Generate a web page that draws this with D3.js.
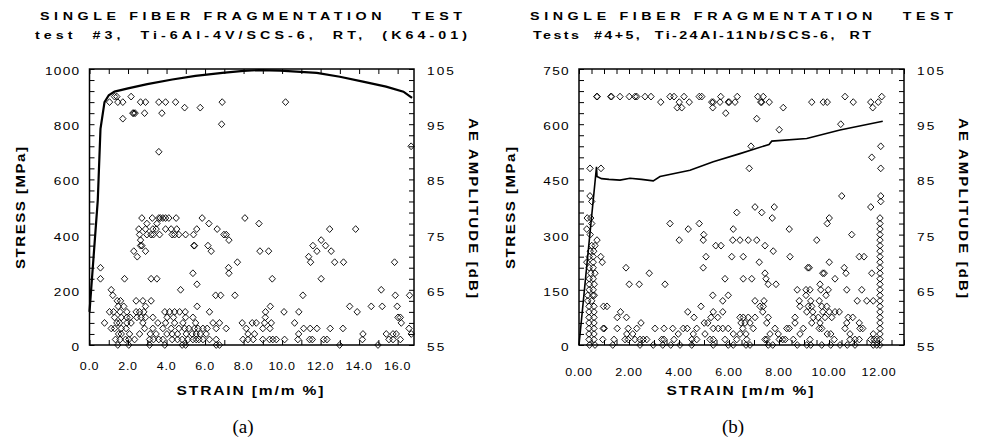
<!DOCTYPE html>
<html>
<head>
<meta charset="utf-8">
<script src="https://cdn.jsdelivr.net/npm/d3@7"></script>
<style>
  body { margin: 0; background: #fff; }
  svg text { font-family: "Liberation Sans", Arial, Helvetica, sans-serif; fill: #000; }
</style>
</head>
<body>
<svg id="fig" width="982" height="441"></svg>
<script>
// ---- panel (a): Ti-6Al-4V/SCS-6 ----
const stressA = [[0,120],[0.43,525],[0.57,783],[0.78,880],[1.0,905],[1.3,918],[2.0,930],[3.0,945],[4.3,962],[5.5,975],[6.9,986],[8.0,993],[8.8,996],[9.9,994],[11.8,986],[13.0,972],[14.2,954],[15.4,936],[16.3,918],[16.75,895]];

// AE hits: [amplitude dB, [strains]]
const aeA = [
  [100, [1.3, 1.42, 2.16]],
  [99, [1.04, 1.47, 1.73, 2.65, 2.91, 3.6, 3.95, 4.47, 6.89, 10.18]],
  [98, [4.94, 5.75]],
  [97, [2.25, 2.3, 2.37, 2.86, 3.76]],
  [96, [1.73]],
  [95, [6.86]],
  [91, [16.7]],
  [90, [3.6]],
  [78, [2.72, 3.26, 3.6, 3.68, 3.81, 3.95, 4.12, 4.5, 5.85, 8.07]],
  [77, [2.98, 3.5, 6.2, 8.8]],
  [76, [2.56, 2.91, 3.29, 3.46, 3.95, 4.24, 4.53, 5.57, 6.63, 12.47, 13.82]],
  [75, [2.6, 2.98, 3.2, 3.32, 3.64, 4.29, 4.42, 4.64, 4.99, 5.4, 6.98, 7.1]],
  [74, [2.65, 7.24, 12.03]],
  [73, [2.65, 2.72, 5.42, 5.45, 6.15, 11.6, 12.26]],
  [72, [2.3, 2.91, 6.32, 8.85, 9.3, 11.81, 12.55]],
  [71, [2.48, 11.38]],
  [70, [7.68, 11.48, 12.73, 13.19, 15.84]],
  [69, [0.57, 7.22]],
  [68, [5.37, 7.24]],
  [67, [0.57, 1.82, 3.2, 3.5, 9.49, 12.03]],
  [66, [5.58]],
  [65, [1.13, 4.73, 15.15]],
  [64, [1.21, 6.55, 6.81, 7.55, 11.08, 15.88, 16.62]],
  [63, [1.44, 1.61, 2.42, 2.77, 3.2]],
  [62, [1.49, 1.78, 2.91, 5.59, 9.39, 13.51, 14.63, 15.2, 15.98]],
  [61, [1.04, 1.25, 1.59, 1.94, 2.42, 2.6, 2.82, 3.91, 4.16, 4.42, 4.68, 4.97, 6.23, 9.14, 10.1, 10.87, 13.9]],
  [60, [1.3, 1.65, 1.94, 2.11, 2.46, 2.68, 2.91, 3.29, 4.03, 4.36, 4.99, 5.37, 9.13, 16.02, 16.14]],
  [59, [0.78, 1.42, 1.56, 1.94, 2.16, 2.77, 3.55, 3.95, 4.42, 4.85, 5.51, 6.41, 6.75, 7.93, 8.45, 8.66, 9.09, 9.44, 10.65, 16.19]],
  [58, [1.13, 1.3, 1.65, 1.9, 2.86, 3.29, 3.81, 4.24, 4.64, 4.94, 5.16, 5.45, 5.63, 5.89, 6.11, 6.58, 7.1, 8.14, 9.0, 9.37, 11.12, 11.46, 11.81, 12.5, 13.16, 16.59]],
  [57, [1.51, 1.65, 2.08, 2.6, 3.15, 3.46, 4.02, 4.29, 4.57, 5.02, 5.33, 5.54, 5.75, 6.06, 8.23, 8.57, 10.86, 14.2, 15.41, 15.76, 15.93, 16.71]],
  [56, [1.35, 1.59, 1.87, 2.04, 2.34, 3.12, 3.32, 3.6, 3.81, 4.29, 4.57, 4.81, 5.11, 5.37, 5.54, 5.68, 5.89, 6.23, 6.58, 7.97, 8.23, 8.5, 9.0, 9.35, 9.52, 9.7, 10.13, 10.82, 11.43, 11.57, 12.16, 12.33, 14.17, 15.55, 15.76, 16.14]],
  [55, [1.47, 2.04, 3.12, 3.91, 4.81, 4.99, 6.58, 6.75, 12.99, 14.98]]
];

// ---- panel (b): Ti-24Al-11Nb/SCS-6 ----
const stressB = [[0,0],[0.7,484],[0.72,458],[0.9,452],[1.2,450],[1.64,448],[2.04,453],[2.5,450],[2.97,446],[3.24,458],[4.44,475],[5.37,498],[6.44,520],[7.6,545],[7.71,554],[9.11,561],[10.44,584],[12.15,608]];

const aeB = [
  [100, [0.71, 0.73, 1.27, 1.3, 1.64, 2.01, 2.24, 2.31, 2.64, 2.88, 3.64, 3.8, 4.2, 4.81, 4.91, 5.67, 6.33, 7.15, 7.37, 10.64, 12.11]],
  [99, [3.27, 4.01, 4.41, 5.31, 5.37, 5.64, 5.97, 6.01, 6.24, 7.27, 7.31, 7.61, 9.31, 9.77, 9.93, 10.97, 11.67, 11.97]],
  [98, [3.93, 4.11, 5.35, 8.17, 11.75]],
  [97, [5.87]],
  [96, [7.11]],
  [95, [10.47]],
  [94, [8.01]],
  [91, [6.88, 12.07]],
  [89, [11.71]],
  [87, [0.44, 0.88, 6.81, 12.07]],
  [82, [0.44, 10.51, 12.07]],
  [81, [0.51, 12.07]],
  [80, [7.04, 7.81, 11.67]],
  [79, [6.31, 7.31]],
  [78, [0.33, 0.47, 7.73, 10.01, 12.04]],
  [77, [0.51, 3.64, 4.81, 9.93, 12.04]],
  [76, [0.31, 4.37, 6.17, 8.41, 12.04]],
  [75, [0.45, 4.99, 10.91, 12.04]],
  [74, [0.72, 4.01, 4.97, 6.15, 6.44, 6.77, 7.11, 9.51, 12.04]],
  [73, [0.51, 0.64, 5.47, 5.68, 7.44, 12.04]],
  [72, [0.45, 0.59, 7.77, 12.04]],
  [71, [0.41, 0.57, 0.87, 5.08, 6.11, 6.57, 8.44, 11.21, 11.4, 12.04]],
  [70, [0.31, 0.57, 0.93, 7.21, 10.01, 12.04]],
  [69, [0.41, 0.57, 1.88, 4.97, 9.15, 9.21, 10.61, 12.04]],
  [68, [0.47, 0.64, 2.81, 7.44, 9.75, 9.81, 10.68, 11.71, 12.04]],
  [67, [0.41, 0.57, 5.84, 6.57, 6.91, 7.48, 10.24, 12.04]],
  [66, [0.41, 0.61, 2.01, 2.41, 3.44, 7.57, 7.88, 9.64, 12.04]],
  [65, [0.41, 0.57, 8.73, 9.08, 9.24, 9.67, 9.97, 10.71, 11.31, 12.04]],
  [64, [0.35, 0.55, 0.61, 5.35, 5.97, 9.08, 9.88, 12.04]],
  [63, [0.35, 0.51, 5.75, 7.04, 7.4, 8.81, 9.27, 9.61, 11.13, 11.51, 11.77, 12.04]],
  [62, [0.4, 0.6, 0.98, 1.12, 4.88, 7.24, 7.37, 8.84, 9.17, 9.31, 9.71, 9.91, 12.04]],
  [61, [0.4, 0.6, 1.66, 4.35, 5.37, 5.75, 7.35, 9.11, 9.35, 9.75, 10.01, 10.24, 10.41, 12.04]],
  [60, [0.4, 0.6, 1.53, 1.9, 4.6, 5.28, 5.55, 6.44, 6.57, 6.77, 7.04, 7.57, 8.64, 9.37, 9.57, 9.84, 10.11, 10.77, 10.95, 12.04]],
  [59, [0.4, 0.6, 2.48, 5.01, 5.15, 6.48, 6.64, 6.84, 7.51, 8.64, 9.31, 9.64, 10.71, 11.21, 12.04]],
  [58, [0.4, 0.6, 0.97, 1.01, 1.53, 1.97, 2.31, 3.04, 3.4, 3.75, 4.17, 4.33, 4.71, 5.37, 5.57, 5.75, 5.97, 6.55, 6.97, 7.84, 8.31, 8.41, 8.97, 9.61, 9.71, 10.64, 11.24, 11.35, 12.04]],
  [57, [0.4, 0.6, 1.91, 2.15, 3.97, 4.57, 5.04, 6.17, 6.44, 6.68, 7.64, 7.97, 8.84, 9.93, 10.07, 10.84, 11.77, 12.04]],
  [56, [0.4, 0.6, 0.95, 1.4, 1.84, 1.97, 2.24, 2.44, 2.57, 2.71, 3.31, 3.4, 3.8, 4.51, 4.71, 5.24, 5.37, 5.84, 6.31, 6.71, 7.44, 7.51, 8.01, 8.15, 8.25, 8.57, 9.24, 10.21, 10.84, 11.04, 11.21, 11.67, 11.8, 11.91, 12.04]],
  [55, [0.42, 0.64, 1.35, 2.44, 2.97, 3.35, 3.67, 4.04, 4.51, 5.37, 5.97, 6.17, 6.68, 6.84, 7.57, 7.75, 8.73, 9.11, 9.27, 9.71, 10.07, 10.44, 10.73, 11.04, 11.77, 11.91, 12.04]]
];

const ampTicks = [55, 65, 75, 85, 95, 105];

const svg = d3.select("#fig");
const plotTop = 69, plotBottom = 345;

// the original typeface is a wide grotesque: draw Liberation Sans stretched horizontally
function wideText(g, txt, o) {
  const t = g.append("text")
    .attr("transform", `translate(${o.x},${o.y}) rotate(${o.rot || 0}) scale(${o.sx},1)`)
    .attr("font-size", o.size)
    .attr("font-weight", o.bold ? "bold" : "normal")
    .attr("text-anchor", o.anchor || "start")
    .style("white-space", "pre")
    .text(txt);
  if (o.len) t.attr("textLength", o.len / o.sx).attr("lengthAdjust", "spacing");
  if (o.ls) t.attr("letter-spacing", o.ls);
  return t;
}

function panel(p) {
  const x = d3.scaleLinear().domain([0, p.xMax]).range([p.left, p.right]);
  const yS = d3.scaleLinear().domain([0, p.sMax]).range([plotBottom, plotTop]);
  const yA = d3.scaleLinear().domain([55, 105]).range([plotBottom, plotTop]);
  const g = svg.append("g");

  // inward ticks on all four sides
  const clean = a => a.call(s => s.select(".domain").remove())
    .call(s => s.selectAll(".tick line").attr("stroke", "#000").attr("stroke-width", 1));
  g.append("g").attr("transform", `translate(0,${plotBottom})`)
    .call(d3.axisBottom(x).tickValues(d3.range(0, p.xMax + 1e-6, p.xMinor)).tickSize(-5).tickSizeOuter(0).tickFormat(""))
    .call(clean);
  g.append("g").attr("transform", `translate(0,${plotTop})`)
    .call(d3.axisTop(x).tickValues(d3.range(0, p.xMax + 1e-6, p.xMinor)).tickSize(-5).tickSizeOuter(0).tickFormat(""))
    .call(clean);
  g.append("g").attr("transform", `translate(${p.left},0)`)
    .call(d3.axisLeft(yS).tickValues(d3.range(0, p.sMax + 1e-6, p.sMinor)).tickSize(-5).tickSizeOuter(0).tickFormat(""))
    .call(clean);
  g.append("g").attr("transform", `translate(${p.right},0)`)
    .call(d3.axisRight(yA).tickValues(d3.range(55, 105.1, 2)).tickSize(-5).tickSizeOuter(0).tickFormat(""))
    .call(clean);

  g.append("rect")
    .attr("x", p.left).attr("y", plotTop)
    .attr("width", p.right - p.left).attr("height", plotBottom - plotTop)
    .attr("fill", "none").attr("stroke", "#000").attr("stroke-width", 1.5);

  // tick labels
  p.xLabels.forEach(d => wideText(g, d.toFixed(p.xDigits),
    { x: x(d), y: p.xLabelY, size: 10, sx: 1.25, anchor: "middle", ls: 0.6 }));
  p.sLabels.forEach(d => wideText(g, String(d),
    { x: p.left - 9, y: yS(d) + 6, size: 10.5, sx: 1.3, anchor: "end", ls: 1 }));
  ampTicks.forEach(d => wideText(g, String(d),
    { x: p.right + 13, y: yA(d) + 6, size: 10.5, sx: 1.3, ls: 1.6 }));

  // stress–strain curve
  g.append("path").datum(p.stress)
    .attr("d", d3.line().x(d => x(d[0])).y(d => yS(d[1])))
    .attr("fill", "none").attr("stroke", "#000").attr("stroke-width", p.lineW);

  // AE amplitude hits
  const hits = p.ae.flatMap(([db, ss]) => ss.map(s => [s, db]));
  g.selectAll("path.ae").data(hits).join("path")
    .attr("class", "ae")
    .attr("transform", d => `translate(${x(d[0])},${yA(d[1])})`)
    .attr("d", "M0,-3.4L3.2,0L0,3.4L-3.2,0Z")
    .attr("fill", "none").attr("stroke", "#000").attr("stroke-width", 0.9);

  // titles
  wideText(g, "SINGLE FIBER FRAGMENTATION   TEST", { x: p.t1[0], y: 20, size: 11, sx: 1.3, bold: true, len: p.t1[1] });
  wideText(g, p.title2, { x: p.t2[0], y: 39, size: 11, sx: 1.3, bold: true, len: p.t2[1] });

  // axis titles
  wideText(g, "STRESS [MPa]", { x: p.stressLabelX, y: 208, rot: -90, size: 12.5, sx: 1.2, bold: true, anchor: "middle", len: 122 });
  wideText(g, "AE AMPLITUDE [dB]", { x: p.ampLabelX, y: 208, rot: 90, size: 12.5, sx: 1.2, bold: true, anchor: "middle", len: 180 });
  wideText(g, "STRAIN [m/m %]", { x: p.strainX, y: 395, size: 13, sx: 1.2, bold: true, anchor: "middle", len: 147 });

  g.append("text").attr("x", p.strainX - 7).attr("y", 433)
    .attr("text-anchor", "middle").attr("font-size", 19)
    .style("font-family", "'Liberation Serif', 'Times New Roman', serif")
    .text(p.tag);
}

panel({
  left: 89.5, right: 414, xMax: 16.85, xMinor: 1, xLabels: d3.range(0, 17, 2), xDigits: 1, xLabelY: 370,
  sMax: 1000, sMinor: 40, sLabels: [0, 200, 400, 600, 800, 1000],
  stress: stressA, ae: aeA, lineW: 2.2,
  t1: [40, 422], t2: [35, 432], title2: "test  #3,  Ti-6Al-4V/SCS-6,  RT,  (K64-01)",
  stressLabelX: 25, ampLabelX: 469, strainX: 250, tag: "(a)"
});

panel({
  left: 579, right: 904, xMax: 13, xMinor: 0.5, xLabels: d3.range(0, 13, 2), xDigits: 2, xLabelY: 376,
  sMax: 750, sMinor: 30, sLabels: [0, 150, 300, 450, 600, 750],
  stress: stressB, ae: aeB, lineW: 1.6,
  t1: [530, 423], t2: [533, 338], title2: "Tests  #4+5,  Ti-24Al-11Nb/SCS-6,  RT",
  stressLabelX: 515, ampLabelX: 959, strainX: 740, tag: "(b)"
});
</script>
</body>
</html>
